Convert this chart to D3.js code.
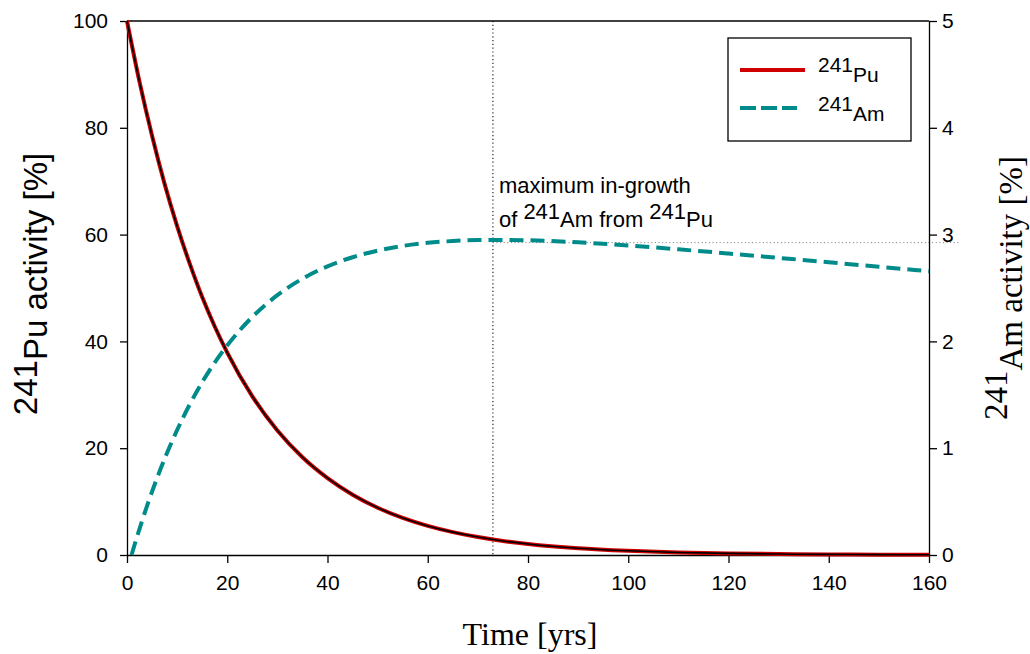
<!DOCTYPE html>
<html>
<head>
<meta charset="utf-8">
<script src="https://cdn.jsdelivr.net/npm/d3@7"></script>
<style>
  html, body { margin: 0; padding: 0; background: #fff; }
  svg { display: block; }
</style>
</head>
<body>
<svg id="chart" width="1030" height="654"></svg>
<script>
// Time axis [yrs]
const puYears = [0, 2.5, 5, 7.5, 10, 12.5, 15, 17.5, 20, 25, 30, 35, 40, 45, 50, 55, 60, 65, 70, 75, 80, 90, 100, 110, 120, 130, 140, 150, 160];
// 241Pu activity [%] (left axis)
const puActivity = [100, 88.6, 78.5, 69.5, 61.6, 54.6, 48.3, 42.8, 37.9, 29.7, 23.3, 18.3, 14.4, 11.3, 8.85, 6.94, 5.45, 4.28, 3.36, 2.63, 2.07, 1.27, 0.79, 0.48, 0.30, 0.18, 0.11, 0.07, 0.04];

const amYears = [0.9, 2, 4, 6, 8, 10, 12.5, 15, 17.5, 20, 25, 30, 35, 40, 45, 50, 55, 60, 65, 70, 75, 80, 90, 100, 110, 120, 130, 140, 150, 160];
// 241Am activity [%] (right axis)
const amActivity = [0, 0.171, 0.460, 0.721, 0.957, 1.170, 1.408, 1.618, 1.802, 1.963, 2.229, 2.433, 2.587, 2.703, 2.788, 2.850, 2.894, 2.923, 2.940, 2.949, 2.950, 2.947, 2.928, 2.898, 2.862, 2.823, 2.782, 2.741, 2.699, 2.657];

const xTicks = [0, 20, 40, 60, 80, 100, 120, 140, 160];
const leftTicks = [0, 20, 40, 60, 80, 100];
const rightTicks = [0, 1, 2, 3, 4, 5];

// time of maximum Am in-growth and level of the reference line
const maxYear = 73;
const maxAmLevel = 2.925;

const svg = d3.select("#chart");
const margin = { left: 127, right: 101, top: 21, bottom: 99 };
const W = 1030, H = 654;

const x = d3.scaleLinear().domain([0, 160]).range([margin.left, W - margin.right]);
const yL = d3.scaleLinear().domain([0, 100]).range([H - margin.bottom, margin.top]);
const yR = d3.scaleLinear().domain([0, 5]).range([H - margin.bottom, margin.top]);

const sans = "Arial, 'Liberation Sans', Helvetica, sans-serif";
const serif = "'Times New Roman', 'Liberation Serif', Times, serif";

// frame top line
svg.append("line")
  .attr("x1", x(0)).attr("x2", x(160))
  .attr("y1", yL(100)).attr("y2", yL(100))
  .attr("stroke", "#000").attr("stroke-width", 1.3);

// reference lines
svg.append("line")
  .attr("x1", x(maxYear)).attr("x2", x(maxYear))
  .attr("y1", yL(100)).attr("y2", yL(0))
  .attr("stroke", "#222").attr("stroke-width", 1.2)
  .attr("stroke-dasharray", "1.2,2.6");
svg.append("line")
  .attr("x1", x(maxYear)).attr("x2", x(160) + 31)
  .attr("y1", yR(maxAmLevel)).attr("y2", yR(maxAmLevel))
  .attr("stroke", "#777").attr("stroke-width", 1)
  .attr("stroke-dasharray", "1,2.6");

// axes
function styleAxis(g) {
  g.selectAll("path.domain").attr("stroke", "#000").attr("stroke-width", 1.3);
  g.selectAll(".tick line").attr("stroke", "#000").attr("stroke-width", 1.3);
  g.selectAll(".tick text").attr("font-family", sans).attr("font-size", 21).attr("fill", "#000");
}

const gx = svg.append("g").attr("transform", `translate(0,${yL(0)})`)
  .call(d3.axisBottom(x).tickValues(xTicks).tickFormat(d3.format("d")).tickSize(8).tickSizeOuter(0).tickPadding(12));
styleAxis(gx);

const gl = svg.append("g").attr("transform", `translate(${x(0)},0)`)
  .call(d3.axisLeft(yL).tickValues(leftTicks).tickFormat(d3.format("d")).tickSize(7).tickSizeOuter(0).tickPadding(12));
styleAxis(gl);

const gr = svg.append("g").attr("transform", `translate(${x(160)},0)`)
  .call(d3.axisRight(yR).tickValues(rightTicks).tickFormat(d3.format("d")).tickSize(8).tickSizeOuter(0).tickPadding(5));
styleAxis(gr);

// curves
const puLine = d3.line().x((d, i) => x(puYears[i])).y(d => yL(d)).curve(d3.curveMonotoneX);
const amLine = d3.line().x((d, i) => x(amYears[i])).y(d => yR(d)).curve(d3.curveMonotoneX);

svg.append("path").attr("d", amLine(amActivity))
  .attr("fill", "none").attr("stroke", "#008b8b").attr("stroke-width", 4)
  .attr("stroke-dasharray", "14,7");

svg.append("path").attr("d", puLine(puActivity))
  .attr("fill", "none").attr("stroke", "#d00000").attr("stroke-width", 4);
svg.append("path").attr("d", puLine(puActivity))
  .attr("fill", "none").attr("stroke", "#000").attr("stroke-width", 1.6);

// annotation
const ann = svg.append("g").attr("font-family", sans).attr("font-size", 22).attr("fill", "#000");
ann.append("text").attr("x", x(maxYear) + 6).attr("y", 193).text("maximum in-growth");
const annT = ann.append("text").attr("x", x(maxYear) + 6).attr("y", 227);
annT.append("tspan").text("of ");
annT.append("tspan").attr("dy", -8).text("241");
annT.append("tspan").attr("dy", 8).text("Am from ");
annT.append("tspan").attr("dy", -8).text("241");
annT.append("tspan").attr("dy", 8).text("Pu");

// legend
const lg = svg.append("g");
lg.append("rect").attr("x", 728).attr("y", 38).attr("width", 183).attr("height", 103)
  .attr("fill", "#fff").attr("stroke", "#000").attr("stroke-width", 1.3);
lg.append("line").attr("x1", 740).attr("x2", 805).attr("y1", 70).attr("y2", 70)
  .attr("stroke", "#d00000").attr("stroke-width", 4);
lg.append("line").attr("x1", 740).attr("x2", 797).attr("y1", 108).attr("y2", 108)
  .attr("stroke", "#008b8b").attr("stroke-width", 4).attr("stroke-dasharray", "16,5");
const legendItems = [["Pu", 82], ["Am", 121]];
legendItems.forEach(([el, yb]) => {
  const t = lg.append("text").attr("x", 818).attr("y", yb)
    .attr("font-family", sans).attr("font-size", 21).attr("fill", "#000");
  t.append("tspan").attr("dy", -10).text("241");
  t.append("tspan").attr("dy", 10).text(el);
});

// axis titles
const lt = svg.append("text")
  .attr("transform", `translate(47,${yL(50) - 4}) rotate(-90)`)
  .attr("text-anchor", "middle")
  .attr("font-family", sans).attr("font-size", 33).attr("fill", "#000");
lt.append("tspan").attr("dy", -10).text("241");
lt.append("tspan").attr("dy", 10).text("Pu activity [%]");

const rt = svg.append("text")
  .attr("transform", `translate(1022,${yR(2.5)}) rotate(-90)`)
  .attr("text-anchor", "middle")
  .attr("font-family", serif).attr("font-size", 33).attr("fill", "#000");
rt.append("tspan").attr("dy", -15).text("241");
rt.append("tspan").attr("dy", 15).text("Am activity [%]");

svg.append("text")
  .attr("x", (x(0) + x(160)) / 2 + 2).attr("y", 645)
  .attr("text-anchor", "middle")
  .attr("font-family", serif).attr("font-size", 32).attr("fill", "#000")
  .text("Time [yrs]");
</script>
</body>
</html>
